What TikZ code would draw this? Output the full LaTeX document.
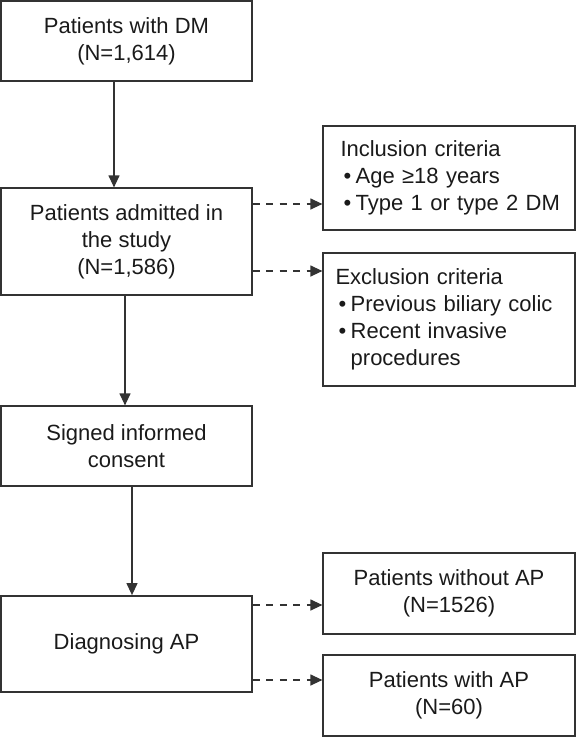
\documentclass[tikz,border=0pt]{standalone}
\usepackage{fontspec}
\setmainfont{Liberation Sans}
\usetikzlibrary{arrows.meta}
\definecolor{ln}{HTML}{333333}
\definecolor{tx}{HTML}{1A1A1A}
\newcommand\bulit{\hspace{3pt}\textbullet\hspace{4.5pt}}
\begin{document}
\begin{tikzpicture}[x=1pt,y=-1pt,
  box/.style={draw=ln, line width=1.2pt, rectangle, inner sep=0pt, align=center,
    text=tx, font=\fontsize{22}{27}\selectfont},
  lbox/.style={draw=ln, line width=1.2pt, rectangle, inner sep=0pt, align=left,
    text width=252pt, minimum width=252pt, text=tx, font=\fontsize{22}{27}\selectfont},
  arr/.style={draw=ln, line width=1.2pt, -{Triangle[length=12pt,width=11pt]}},
  darr/.style={draw=ln, line width=1.2pt, dash pattern=on 7pt off 6.5pt,
    -{Triangle[length=12pt,width=11pt]}}
]
\useasboundingbox (0,0) rectangle (576,737);

\node[box, minimum width=251pt, minimum height=80pt] (b1) at (126.5,41)
  {Patients with DM\\(N=1,614)};
\node[box, minimum width=251pt, minimum height=107pt] (b2) at (126.5,241.5)
  {Patients admitted in\\the study\\(N=1,586)};
\node[box, minimum width=251pt, minimum height=80pt] (b3) at (126.5,446)
  {Signed informed\\consent};
\node[box, line width=1.8pt, minimum width=251pt, minimum height=96pt] (b4) at (126.5,644)
  {Diagnosing AP};

\node[lbox, minimum height=104pt] (inc) at (449,178)
  {\hspace*{17.5pt}Inclusion criteria\\\hspace*{17.5pt}\bulit Age ≥18 years\\\hspace*{17.5pt}\bulit Type 1 or type 2 DM};
\node[lbox, minimum height=133pt] (exc) at (449,319.5)
  {\hspace*{12.5pt}Exclusion criteria\\\hspace*{12.5pt}\bulit Previous biliary colic\\\hspace*{12.5pt}\bulit Recent invasive\\\hspace*{12.5pt}\phantom{\bulit}procedures};

\node[box, minimum width=252pt, minimum height=81pt] (wo) at (449,593.5)
  {Patients without AP\\(N=1526)};
\node[box, minimum width=252pt, minimum height=81pt] (wi) at (449,695.5)
  {Patients with AP\\(N=60)};

\draw[arr] (114,0 |- b1.south) -- (114,0 |- b2.north);
\draw[arr] (125,0 |- b2.south) -- (125,0 |- b3.north);
\draw[arr] (132,0 |- b3.south) -- (132,0 |- b4.north);

\draw[darr] (b2.east |- 0,204) -- (inc.west |- 0,204);
\draw[darr] (b2.east |- 0,271) -- (exc.west |- 0,271);
\draw[darr] (b4.east |- 0,605) -- (wo.west |- 0,605);
\draw[darr] (b4.east |- 0,680) -- (wi.west |- 0,680);
\end{tikzpicture}
\end{document}
